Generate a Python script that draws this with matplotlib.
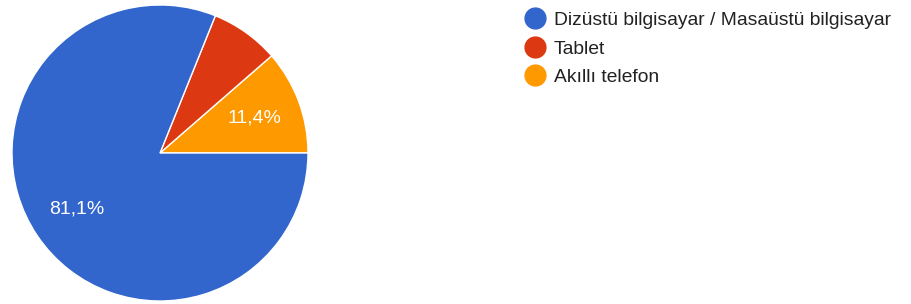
import matplotlib
matplotlib.use("Agg")
import matplotlib.pyplot as plt
from matplotlib.lines import Line2D

labels = ["Dizüstü bilgisayar / Masaüstü bilgisayar", "Tablet", "Akıllı telefon"]
shares = [81.1, 7.5, 11.4]
colors = ["#3366cc", "#dc3912", "#ff9900"]

plt.rcParams["font.family"] = ["Liberation Sans", "DejaVu Sans"]

fig = plt.figure(figsize=(9.12, 3.04), dpi=100)
ax = fig.add_axes([12 / 912, 3 / 304, 296 / 912, 296 / 304])

# draw counterclockwise from 3 o'clock: orange, red, then blue
order = [2, 1, 0]
vals = [shares[i] for i in order]
cols = [colors[i] for i in order]


def pct(v):
    if v < 10:
        return ""
    return f"{v:.1f}%".replace(".", ",")


wedges, texts, autotexts = ax.pie(
    vals, colors=cols, startangle=0, counterclock=True,
    autopct=pct, pctdistance=0.68,
    wedgeprops=dict(edgecolor="white", linewidth=1),
    textprops=dict(color="white", fontsize=14),
)
ax.set_xlim(-1.0, 1.0)
ax.set_ylim(-1.0, 1.0)
ax.set_aspect("equal")

handles = [Line2D([], [], marker="o", linestyle="", markersize=15,
                  markerfacecolor=c, markeredgecolor=c) for c in colors]
fig.legend(handles, labels, loc="upper left", bbox_to_anchor=(516 / 912, 1 - 4 / 304),
           frameon=False, fontsize=13.9, labelcolor="#222222",
           handletextpad=0.35, labelspacing=0.56, handlelength=1.2, borderaxespad=0)

fig.savefig("out.png", dpi=100, facecolor="white")
